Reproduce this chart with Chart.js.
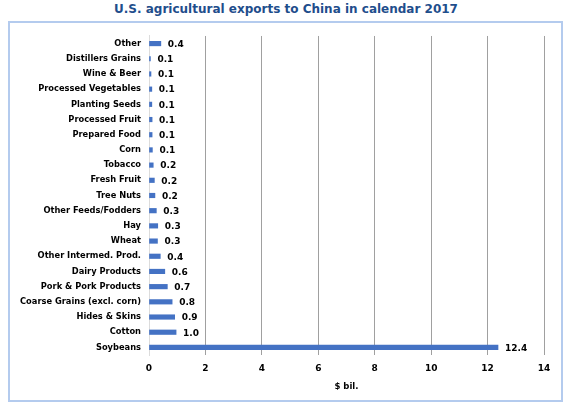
<!DOCTYPE html>
<html>
<head>
<meta charset="utf-8">
<script src="https://cdn.jsdelivr.net/npm/chart.js@4.4.1/dist/chart.umd.min.js"></script>
<style>
    body { margin: 0; background: #fff; width: 572px; height: 411px; position: relative; overflow: hidden; }
    #titulo {
        position: absolute; left: 0; top: 2px; width: 572px; text-align: center;
        font-family: 'DejaVu Sans', Verdana, sans-serif; font-weight: bold; font-size: 12px;
        color: #1f4e8c;
    }
    #marco {
        position: absolute; left: 8px; top: 21px; width: 551px; height: 377px;
        border: 2px solid #b4cbee;
    }
    canvas { display: block; }
</style>
</head>
<body>
<div id="titulo">U.S. agricultural exports to China in calendar 2017</div>
<div id="marco"><canvas id="grafico" width="551" height="377"></canvas></div>
<script>
const categorias = [
    'Other', 'Distillers Grains', 'Wine & Beer', 'Processed Vegetables', 'Planting Seeds',
    'Processed Fruit', 'Prepared Food', 'Corn', 'Tobacco', 'Fresh Fruit', 'Tree Nuts',
    'Other Feeds/Fodders', 'Hay', 'Wheat', 'Other Intermed. Prod.', 'Dairy Products',
    'Pork & Pork Products', 'Coarse Grains (excl. corn)', 'Hides & Skins', 'Cotton', 'Soybeans'
];
const valores = [
    0.42, 0.05, 0.07, 0.10, 0.10,
    0.11, 0.11, 0.12, 0.15, 0.19, 0.21,
    0.26, 0.31, 0.30, 0.40, 0.56,
    0.65, 0.82, 0.91, 0.96, 12.37
];
// etiquetas tal como aparecen en el gráfico
const etiquetas = [
    '0.4', '0.1', '0.1', '0.1', '0.1',
    '0.1', '0.1', '0.1', '0.2', '0.2', '0.2',
    '0.3', '0.3', '0.3', '0.4', '0.6',
    '0.7', '0.8', '0.9', '1.0', '12.4'
];
const ticksX = [0, 2, 4, 6, 8, 10, 12, 14];

const fuente = "'DejaVu Sans', Verdana, sans-serif";

// Dibuja el valor al final de cada barra
const etiquetasBarras = {
    id: 'etiquetasBarras',
    afterDatasetsDraw(chart) {
        const ctx = chart.ctx;
        const meta = chart.getDatasetMeta(0);
        ctx.save();
        ctx.font = 'bold 9px ' + fuente;
        ctx.fillStyle = '#000';
        ctx.textBaseline = 'middle';
        ctx.textAlign = 'left';
        meta.data.forEach((barra, i) => {
            ctx.fillText(etiquetas[i], barra.x + 7, barra.y + 1);
        });
        ctx.restore();
    }
};

new Chart(document.getElementById('grafico').getContext('2d'), {
    type: 'bar',
    data: {
        labels: categorias,
        datasets: [{
            data: valores,
            backgroundColor: '#4472c4',
            barThickness: 4.5
        }]
    },
    options: {
        indexAxis: 'y',
        responsive: false,
        animation: false,
        layout: { padding: { top: 0, right: 17, left: 0, bottom: 4 } },
        plugins: {
            legend: { display: false },
            tooltip: { enabled: false }
        },
        scales: {
            x: {
                min: 0,
                max: 14,
                afterBuildTicks: (escala) => {
                    escala.ticks = ticksX.map(v => ({ value: v }));
                },
                afterFit: (escala) => { escala.height = 41; },
                grid: {
                    color: (c) => c.tick && c.tick.value === 0 ? '#dcdcdc' : '#a0a0a0',
                    lineWidth: 1,
                    drawTicks: false
                },
                border: { display: false },
                ticks: {
                    padding: 8,
                    color: '#000',
                    font: { family: fuente, weight: 'bold', size: 9 }
                },
                title: {
                    display: true,
                    text: '$ bil.',
                    color: '#000',
                    padding: { top: 0 },
                    font: { family: fuente, weight: 'bold', size: 8.5 }
                }
            },
            y: {
                afterFit: (escala) => { escala.width = 139; },
                grid: { display: false, drawTicks: false },
                border: { display: true, color: '#dcdcdc' },
                ticks: {
                    padding: 8,
                    color: '#000',
                    autoSkip: false,
                    font: { family: fuente, weight: 'bold', size: 8.3 }
                }
            }
        }
    },
    plugins: [etiquetasBarras]
});
</script>
</body>
</html>
